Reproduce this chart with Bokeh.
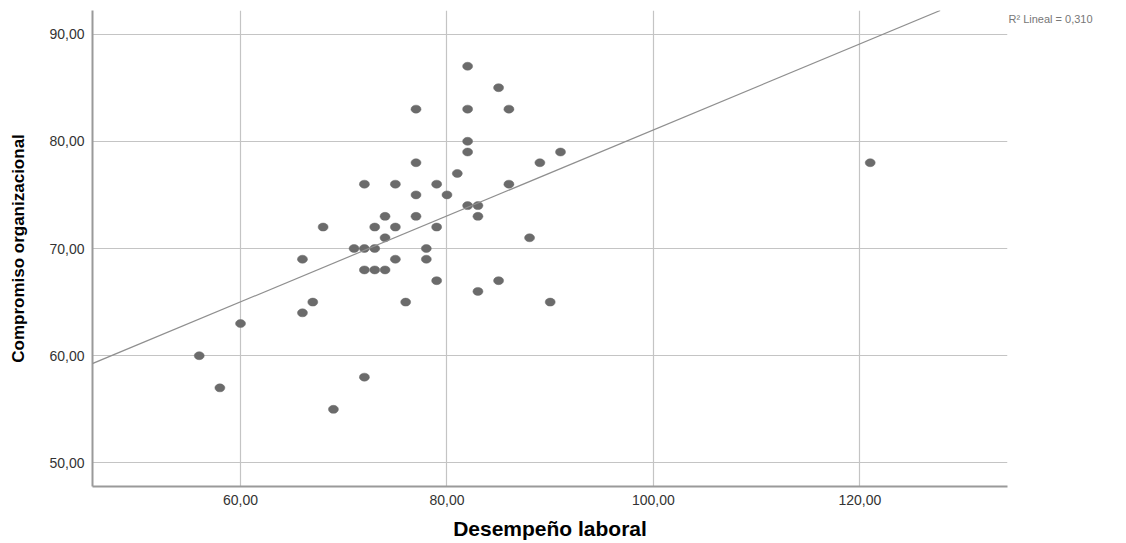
from bokeh.plotting import figure
from bokeh.models import (Range1d, FixedTicker, CustomJSTickFormatter, Slope, LinearAxis,
                          ColumnDataSource)
from bokeh.embed import file_html
from bokeh.resources import INLINE

# Data
desempeno = [56, 58, 60, 66, 66, 67, 68, 69, 71, 72, 72, 72, 72, 73, 73, 73,
             74, 74, 74, 75, 75, 75, 76, 77, 77, 77, 77, 78, 78, 79, 79, 79,
             80, 81, 82, 82, 82, 82, 82, 83, 83, 83, 85, 85, 86, 86, 88, 89,
             90, 91, 121]
compromiso = [60, 57, 63, 64, 69, 65, 72, 55, 70, 70, 68, 58, 76, 70, 72, 68,
              73, 71, 68, 76, 72, 69, 65, 83, 78, 75, 73, 70, 69, 76, 72, 67,
              75, 77, 87, 83, 80, 79, 74, 74, 73, 66, 85, 67, 83, 76, 71, 78,
              65, 79, 78]
x_ticks = [60, 80, 100, 120]
y_ticks = [50, 60, 70, 80, 90]
# Linear fit line as drawn in the reference
fit_slope = 0.401
fit_intercept = 40.96
r2_text = "R\u00b2 Lineal = 0,310"
r2_y = 91.4  # vertical position of the R² note (in y-axis units)

FONT = "Liberation Sans"

p = figure(width=1120, height=542, output_backend="svg", toolbar_location=None,
           x_range=Range1d(45.66, 134.3), y_range=Range1d(47.8, 92.2),
           min_border_left=92, min_border_top=10, min_border_right=113, min_border_bottom=55)
p.outline_line_color = None
p.background_fill_color = "white"

fmt = CustomJSTickFormatter(code="return tick.toFixed(2).replace('.', ',');")
for ax, ticks in ((p.xaxis, x_ticks), (p.yaxis, y_ticks)):
    ax.ticker = FixedTicker(ticks=ticks)
    ax.formatter = fmt
    ax.major_tick_out = 0
    ax.major_tick_in = 0
    ax.minor_tick_out = 0
    ax.minor_tick_in = 0
    ax.axis_line_color = "#9a9a9a"
    ax.axis_line_width = 2
    ax.major_label_text_font = FONT
    ax.major_label_text_font_size = "14px"
    ax.major_label_text_color = "#333333"
    ax.major_label_standoff = 8
    ax.axis_label_text_font = FONT
    ax.axis_label_text_font_style = "bold"
    ax.axis_label_text_color = "#000000"

p.xaxis.axis_label = "Desempeño laboral"
p.xaxis.axis_label_text_font_size = "21px"
p.xaxis.axis_label_standoff = 9
p.yaxis.axis_label = "Compromiso organizacional"
p.yaxis.axis_label_text_font_size = "17px"
p.yaxis.axis_label_standoff = 18

p.xgrid.ticker = FixedTicker(ticks=x_ticks)
p.ygrid.ticker = FixedTicker(ticks=y_ticks)
for g in (p.xgrid, p.ygrid):
    g.grid_line_color = "#c4c4c4"
    g.grid_line_width = 1.2

p.add_layout(Slope(gradient=fit_slope, y_intercept=fit_intercept, line_color="#8f8f8f", line_width=1.2))

src = ColumnDataSource(dict(x=desempeno, y=compromiso))
p.ellipse(x="x", y="y", width=10, height=8, width_units="screen", height_units="screen",
          source=src, fill_color="#6b6b6b", line_color="#6b6b6b", line_width=0.5)

# R² note drawn as the single label of a bare axis on the right side
note_axis = LinearAxis(ticker=FixedTicker(ticks=[r2_y]),
                       major_label_overrides={r2_y: r2_text},
                       axis_line_color=None, major_tick_line_color=None,
                       minor_tick_line_color=None, major_tick_out=0, major_tick_in=0,
                       major_label_standoff=1, major_label_text_font=FONT,
                       major_label_text_font_size="11px", major_label_text_color="#777777")
p.add_layout(note_axis, "right")

open("out.html", "w").write(file_html(p, INLINE))
